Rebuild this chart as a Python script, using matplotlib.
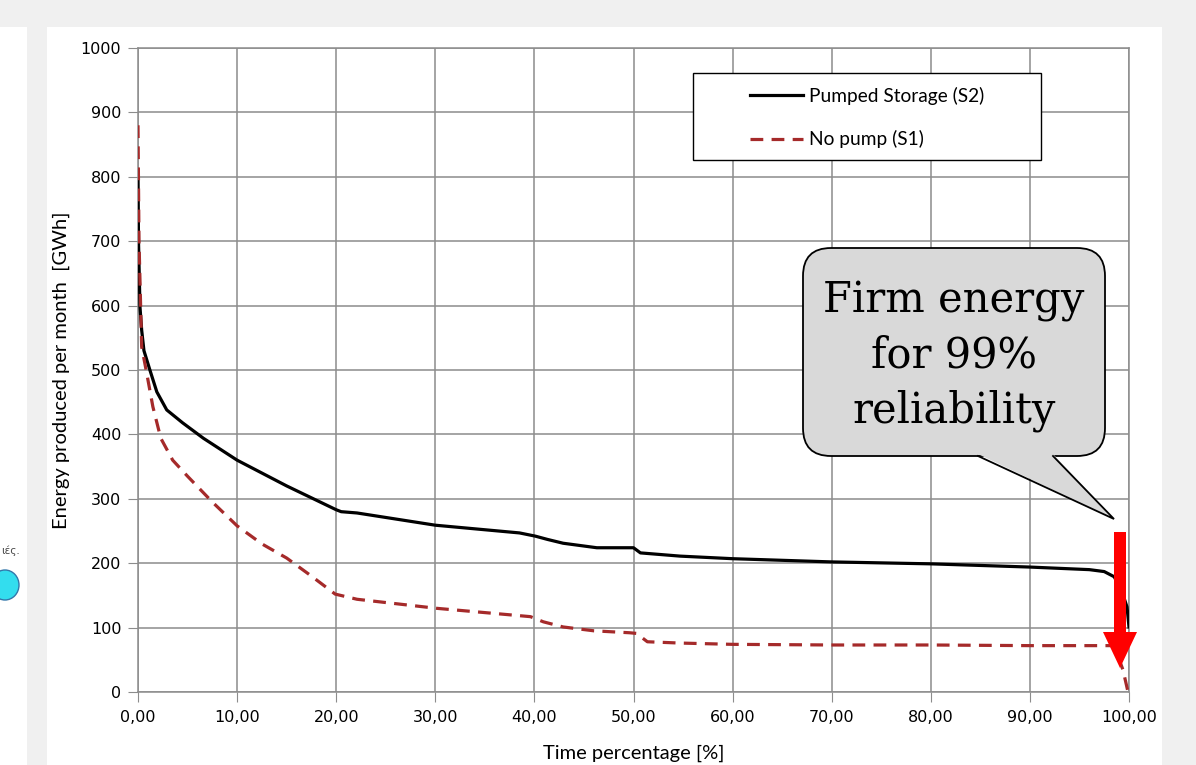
import matplotlib
matplotlib.use("Agg")
import matplotlib.pyplot as plt
from matplotlib.patches import Rectangle, FancyBboxPatch, Polygon, Ellipse
from matplotlib.ticker import FuncFormatter

# ---- data ----
pct_s2 = [0, 0.05, 0.2, 0.37, 0.6, 1.2, 1.9, 2.9, 4.5, 6.6, 10, 15, 20, 20.5, 22.1,
          30, 38.5, 40.1, 41.3, 42.9, 46.3, 50, 50.7, 54.7, 60, 70, 80, 90, 96, 97.5,
          98.5, 99.2, 99.8, 100]
s2 = [810, 700, 598, 562, 530, 500, 466, 438, 418, 394, 360, 320, 283, 280, 278,
      259, 247, 242, 237, 231, 224, 224, 216, 211, 207, 202, 199, 194, 190, 187,
      179, 160, 132, 101]

pct_s1 = [0, 0.1, 0.37, 0.88, 1.5, 2.3, 3.5, 5, 7.5, 10, 12.5, 15, 17.5, 19.9, 22.1,
          30.1, 39.6, 40.9, 42.9, 46, 49.6, 50.3, 51.4, 54.7, 60, 70, 80, 90, 98.5,
          99.4, 99.9]
s1 = [880, 700, 536, 495, 443, 394, 360, 335, 295, 258, 230, 208, 180, 152, 144,
      130, 117, 109, 101, 95, 92, 91, 78, 76, 74, 73, 73, 72, 72, 34, 0]

label_s2 = "Pumped Storage (S2)"
label_s1 = "No pump (S1)"
x_ticks = [0, 10, 20, 30, 40, 50, 60, 70, 80, 90, 100]
y_ticks = [0, 100, 200, 300, 400, 500, 600, 700, 800, 900, 1000]
callout_text = "Firm energy\nfor 99%\nreliability"

W, H = 1196, 765
fig = plt.figure(figsize=(W / 100, H / 100), dpi=100)
fig.patch.set_facecolor("#f0f0f0")

# background panels (pixel coordinates)
bg = fig.add_axes([0, 0, 1, 1], zorder=0)
bg.set_xlim(0, W); bg.set_ylim(H, 0); bg.axis("off")
bg.add_patch(Rectangle((47, 27), 1115, 760, facecolor="white", edgecolor="none"))
bg.add_patch(Rectangle((0, 27), 27, 760, facecolor="white", edgecolor="none"))
bg.add_patch(Ellipse((5, 585), 28, 30, facecolor="#33ddee", edgecolor="#3377aa", lw=1))
bg.text(1, 551, "ιές.", fontsize=7.5, color="#444444", ha="left", va="center",
        family="DejaVu Sans")

# main axes
ax = fig.add_axes([138 / W, 1 - 692 / H, (1129 - 138) / W, (692 - 48) / H], zorder=1)
ax.set_facecolor("white")
ax.set_xlim(0, 100)
ax.set_ylim(0, 1000)
ax.set_xticks(x_ticks)
ax.set_yticks(y_ticks)
ax.xaxis.set_major_formatter(FuncFormatter(lambda v, p: f"{v:.2f}".replace(".", ",")))
ax.grid(True, color="#8c8c8c", lw=1.1)
ax.set_axisbelow(True)
for s in ax.spines.values():
    s.set_color("#8c8c8c")
    s.set_linewidth(1.1)
ax.tick_params(axis="both", direction="out", length=7, color="#8c8c8c",
               labelsize=11.5, labelcolor="black")
ax.tick_params(axis="y", pad=5)
ax.tick_params(axis="x", pad=6)
for t in ax.get_xticklabels() + ax.get_yticklabels():
    t.set_family("DejaVu Sans")

l2, = ax.plot(pct_s2, s2, color="black", lw=2.3, label=label_s2, zorder=3)
l1, = ax.plot(pct_s1, s1, color="#a52a2a", lw=2.3, ls=(0, (4, 2.6)), label=label_s1,
              zorder=4)

ax.set_xlabel("Time percentage [%]", fontsize=14.5, family="Lato", labelpad=14)
ax.set_ylabel("Energy produced per month  [GWh]", fontsize=14.5, family="Lato",
              labelpad=8)

# overlay in pixel coordinates for legend, arrow, callout
fg = fig.add_axes([0, 0, 1, 1], zorder=10)
fg.set_xlim(0, W); fg.set_ylim(H, 0); fg.axis("off")
fg.patch.set_alpha(0)

fg.add_patch(Rectangle((693, 73), 348, 87, facecolor="white", edgecolor="black",
                       lw=1.0))
leg = fg.legend(handles=[l2, l1], loc="center left", bbox_to_anchor=(750, 117.5),
                bbox_transform=fg.transData, frameon=False,
                prop={"family": "Lato", "size": 13.75}, handlelength=2.75,
                handletextpad=0.35, labelspacing=1.35, borderpad=0,
                borderaxespad=0)

# red arrow
fg.add_patch(Polygon([(1114, 532), (1126, 532), (1126, 632), (1137, 632),
                      (1120, 668), (1103, 632), (1114, 632)], closed=True,
                     facecolor="#ff0000", edgecolor="none"))

# callout
box = FancyBboxPatch((803, 248), 302, 208, boxstyle="round,pad=0,rounding_size=28",
                     facecolor="#d9d9d9", edgecolor="black", lw=1.3)
fg.add_patch(box)
fg.add_patch(Polygon([(978, 454), (1114, 519), (1053, 454)], closed=True,
                     facecolor="#d9d9d9", edgecolor="none"))
fg.plot([978, 1114, 1053], [456, 519, 456], color="black", lw=1.3,
        solid_joinstyle="miter")
fg.text(954, 356, callout_text, ha="center", va="center", fontsize=30,
        family="DejaVu Serif", linespacing=1.4)

fig.savefig("out.png", dpi=100, facecolor=fig.get_facecolor())
